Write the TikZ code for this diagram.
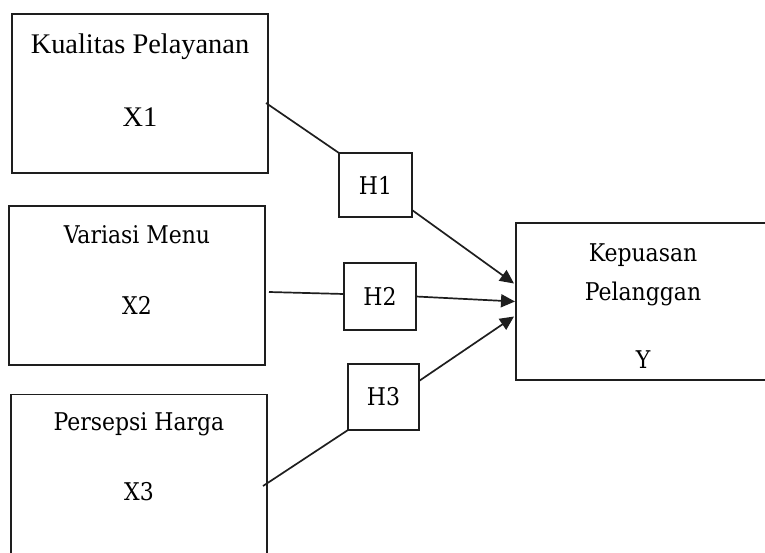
\documentclass[tikz,border=0pt]{standalone}
\usepackage{fontspec}
\setmainfont{Liberation Serif}
\newfontfamily\cambriaish{DejaVu Serif Condensed}
\usetikzlibrary{arrows.meta,calc,positioning}
\definecolor{cline}{RGB}{30,30,30}

\begin{document}
\begin{tikzpicture}[
  x=0.5pt,y=-0.5pt,
  >={Triangle[length=7pt,width=6.5pt]},
  varbox/.style={draw=cline,line width=0.7pt,inner sep=0pt,outer sep=0pt,
                 minimum width=128pt,minimum height=79.5pt},
  hypbox/.style={draw=cline,line width=0.7pt,inner sep=0pt,outer sep=0pt},
  lbl/.style={inner sep=0pt,font=\cambriaish\fontsize{12.2}{14}\selectfont},
  link/.style={cline,line width=0.85pt},
]
\useasboundingbox (0,0) rectangle (765,552);

% ============================ independent variables ============================
\node[varbox] (x1) at (140,93.5) {};
\node[varbox] (x2) at (137,285.5) {};
\node[varbox] (x3) at (139,474) {};
\node[inner sep=0pt,font=\fontsize{14.2}{16}\selectfont] at (140,47) {Kualitas Pelayanan};
\node[inner sep=0pt,font=\fontsize{14.2}{16}\selectfont] at (140,117) {X1};
\node[lbl] at (137,235) {Variasi Menu};
\node[lbl] at (137,305) {X2};
\node[lbl] at (139,424) {Persepsi Harga};
\node[lbl] at (139,492) {X3};

% ============================ dependent variable ============================
\node[varbox,minimum width=128pt,minimum height=78.5pt] (y) at (644,301.5) {};
\node[lbl] at (643,255) {Kepuasan};
\node[lbl] at (643,294) {Pelanggan};
\node[lbl] at (643,360) {Y};

% ============================ hypotheses ============================
\node[hypbox,minimum width=36.5pt,minimum height=32pt] (h1) at (375.5,185) {};
\node[hypbox,minimum width=36pt,minimum height=33.5pt] (h2) at (380,296.5) {};
\node[hypbox,minimum width=35.5pt,minimum height=33pt] (h3) at (383.5,397) {};
\foreach \h in {1,2,3}{ \node[lbl] at (h\h) {H\h}; }

% connectors
\coordinate (s1) at (266,103);
\coordinate (s2) at (269,292);
\coordinate (s3) at (263,486);
\draw[link] (s1) -- (h1.north west);
\draw[link] (s2) -- ($(h2.west)+(0,-2.5)$);
\draw[link] (s3) -- (h3.south west);
\draw[link,->] ($(h1.south east)+(0,-7)$) -- ($(y.west)+(-2,-18)$);
\draw[link,->] (h2.east) -- ($(y.west)+(-1,0)$);
\draw[link,->] ($(h3.east)+(0,-16)$) -- ($(y.west)+(-2,15)$);
\end{tikzpicture}
\end{document}
